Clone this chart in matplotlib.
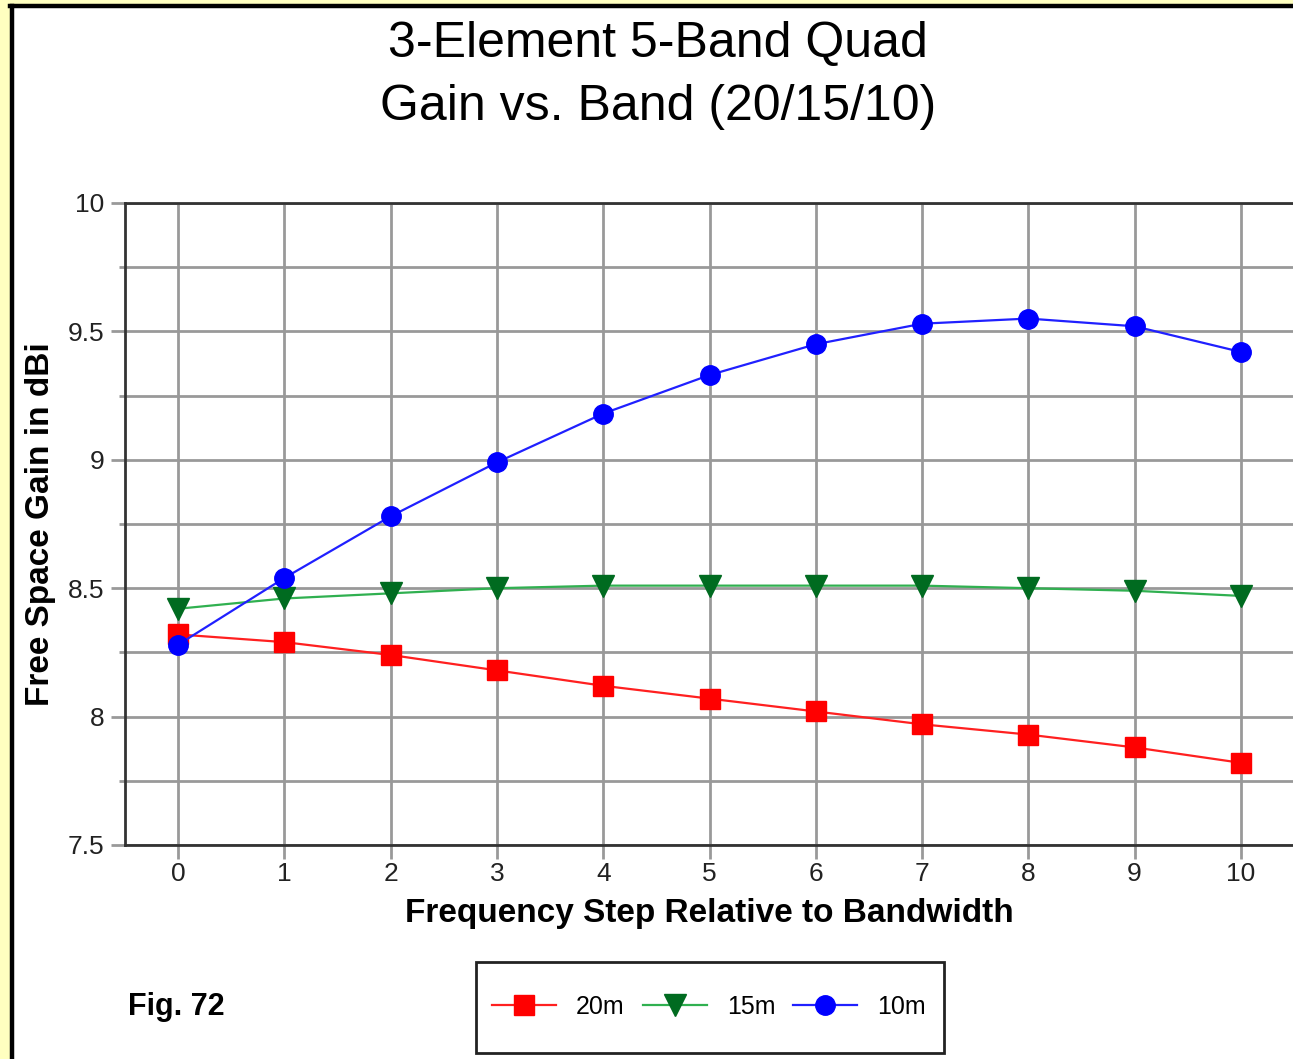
import matplotlib
matplotlib.use("Agg")
import matplotlib.pyplot as plt
from matplotlib.patches import Rectangle
from matplotlib.lines import Line2D

plt.rcParams['font.family'] = ['Liberation Sans', 'DejaVu Sans']

steps = list(range(11))
gain_20m = [8.32, 8.29, 8.24, 8.18, 8.12, 8.07, 8.02, 7.97, 7.93, 7.88, 7.82]
gain_15m = [8.42, 8.46, 8.48, 8.50, 8.51, 8.51, 8.51, 8.51, 8.50, 8.49, 8.47]
gain_10m = [8.28, 8.54, 8.78, 8.99, 9.18, 9.33, 9.45, 9.53, 9.55, 9.52, 9.42]
series_names = ['20m', '15m', '10m']
title_lines = ['3-Element 5-Band Quad', 'Gain vs. Band (20/15/10)']
x_ticks = list(range(11))
y_ticks = [7.5, 8, 8.5, 9, 9.5, 10]
y_tick_labels = ['7.5', '8', '8.5', '9', '9.5', '10']

W, H = 1293, 1059
fig = plt.figure(figsize=(W / 100, H / 100), dpi=100)
fig.patch.set_facecolor('white')

# yellow page frame with black border
fig.patches.append(Rectangle((0, 0), 10 / W, 1, transform=fig.transFigure,
                             facecolor='#ffffc0', edgecolor='none', zorder=0))
fig.patches.append(Rectangle((0, 1 - 4 / H), 1, 4 / H, transform=fig.transFigure,
                             facecolor='#ffffc0', edgecolor='none', zorder=0))
fig.add_artist(Line2D([11.5 / W, 11.5 / W], [0, 1 - 5.5 / H], transform=fig.transFigure,
                      color='black', lw=3.2))
fig.add_artist(Line2D([10 / W, 1], [1 - 5.5 / H, 1 - 5.5 / H], transform=fig.transFigure,
                      color='black', lw=3.2))

ax = fig.add_axes([125 / W, 1 - 845 / H, (1294 - 125) / W, (845 - 203) / H])
ax.set_xlim(-0.5, 10.5)
ax.set_ylim(7.5, 10)

ax.set_xticks(x_ticks)
ax.set_xticklabels([str(t) for t in x_ticks], fontsize=19, color='#222222')
ax.set_yticks(y_ticks)
ax.set_yticklabels(y_tick_labels, fontsize=19, color='#222222')
ax.set_yticks([7.75, 8.25, 8.75, 9.25, 9.75], minor=True)
ax.tick_params(axis='both', which='major', length=10, width=2, color='#999999', pad=5)
ax.tick_params(axis='x', which='major', pad=2)
ax.tick_params(axis='y', which='minor', length=4, width=2, color='#999999')
ax.grid(True, which='both', color='#999999', lw=2)
ax.set_axisbelow(True)

for s in ['left', 'top', 'bottom']:
    ax.spines[s].set_color('#333333')
    ax.spines[s].set_linewidth(2)
ax.spines['right'].set_visible(False)

l1, = ax.plot(steps, gain_20m, color='#ff2020', lw=1.6, marker='s', markersize=15,
              markerfacecolor='#ff0000', markeredgecolor='#ff0000', label=series_names[0])
l2, = ax.plot(steps, gain_15m, color='#30b050', lw=1.6, marker='v', markersize=16,
              markerfacecolor='#006b20', markeredgecolor='#006b20', label=series_names[1])
l3, = ax.plot(steps, gain_10m, color='#2020ff', lw=1.6, marker='o', markersize=14,
              markerfacecolor='#0000ff', markeredgecolor='#0000ff', label=series_names[2])

ax.set_xlabel('Frequency Step Relative to Bandwidth', fontsize=24, fontweight='bold', labelpad=9)
ax.set_ylabel('Free Space Gain in dBi', fontsize=24, fontweight='bold', labelpad=8)

fig.text(658 / W, 1 - 44 / H, title_lines[0], ha='center', va='center', fontsize=36)
fig.text(658 / W, 1 - 107 / H, title_lines[1], ha='center', va='center', fontsize=36)

fig.text(128 / W, 1 - 1007 / H, 'Fig. 72', ha='left', va='center', fontsize=22, fontweight='bold')

fig.patches.append(Rectangle((476 / W, 1 - 1053 / H), (944 - 476) / W, (1053 - 962) / H,
                             transform=fig.transFigure, facecolor='white',
                             edgecolor='#222222', lw=2, zorder=2))
leg = fig.legend(handles=[l1, l2, l3], loc='center', bbox_to_anchor=(709 / W, 1 - 1007 / H),
                 ncol=3, frameon=False, fontsize=18, handlelength=2.56, handletextpad=0.8,
                 columnspacing=0.72, markerscale=1.0)
leg.set_zorder(3)

fig.savefig('out.png', dpi=100)
